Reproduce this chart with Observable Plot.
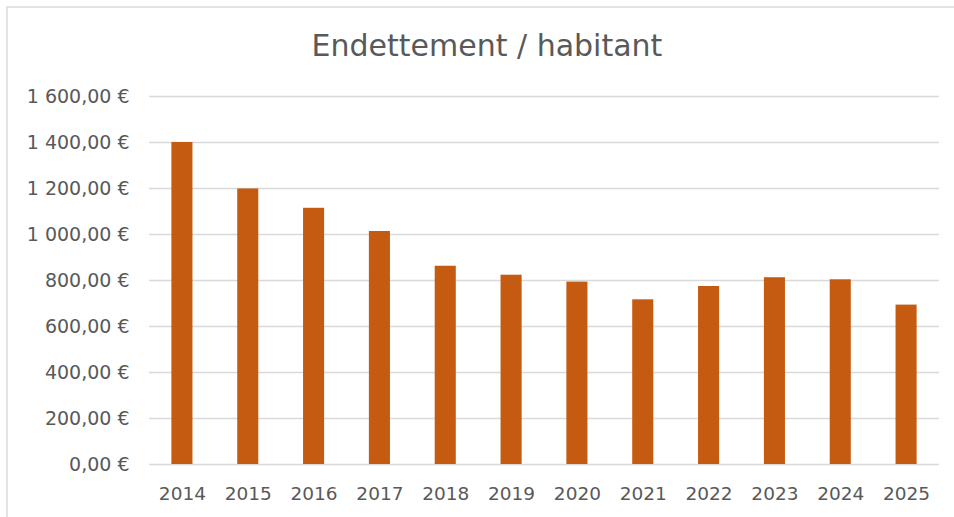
<!DOCTYPE html>
<html><head><meta charset="utf-8">
<script src="https://cdn.jsdelivr.net/npm/d3@7"></script>
<script src="https://cdn.jsdelivr.net/npm/@observablehq/plot@0.6"></script>
<style>
body{margin:0;background:#fff;width:954px;height:517px;overflow:hidden;position:relative;font-family:"DejaVu Sans",sans-serif;}
#frame{position:absolute;left:6px;top:6px;width:970px;height:530px;border:2px solid #e3e3e3;box-sizing:border-box;}
#title{position:absolute;left:0;width:974px;top:28px;text-align:center;font-size:30px;color:#595959;line-height:36px;}
#chart{position:absolute;left:0;top:0;}
</style></head>
<body>
<div id="frame"></div>
<div id="chart"></div>
<div id="title">Endettement / habitant</div>
<script>
const years = ["2014","2015","2016","2017","2018","2019","2020","2021","2022","2023","2024","2025"];
const values = [1400,1198,1114,1013,862,823,793,716,774,812,803,693];
const yTicks = [0,200,400,600,800,1000,1200,1400,1600];

const fr = d3.formatLocale({decimal:",", thousands:"\u00a0", grouping:[3], currency:["","\u00a0€"]});
const fmt = v => fr.format("$,.2f")(v);
const data = years.map((y,i)=>({year:y, value:values[i]}));

const chart = Plot.plot({
  width:954, height:517,
  marginTop:96, marginBottom:53, marginLeft:149, marginRight:15,
  style:{fontFamily:'"DejaVu Sans",sans-serif', fontSize:"19px", color:"#595959", background:"transparent"},
  x:{domain:years, paddingInner:0.68, paddingOuter:0.34, round:false, label:null, tickSize:0, tickPadding:22},
  y:{domain:[0,1600], ticks:yTicks, tickFormat:fmt, label:null, tickSize:0, tickPadding:20},
  marks:[
    Plot.ruleY(yTicks,{stroke:"#d9d9d9", strokeWidth:1.5}),
    Plot.barY(data,{x:"year", y:"value", fill:"#C55A11"})
  ]
});
chart.querySelectorAll("g[aria-label='x-axis tick label'] text").forEach(t=>t.style.fontSize="18.5px");
document.getElementById("chart").appendChild(chart);
</script>
</body></html>
